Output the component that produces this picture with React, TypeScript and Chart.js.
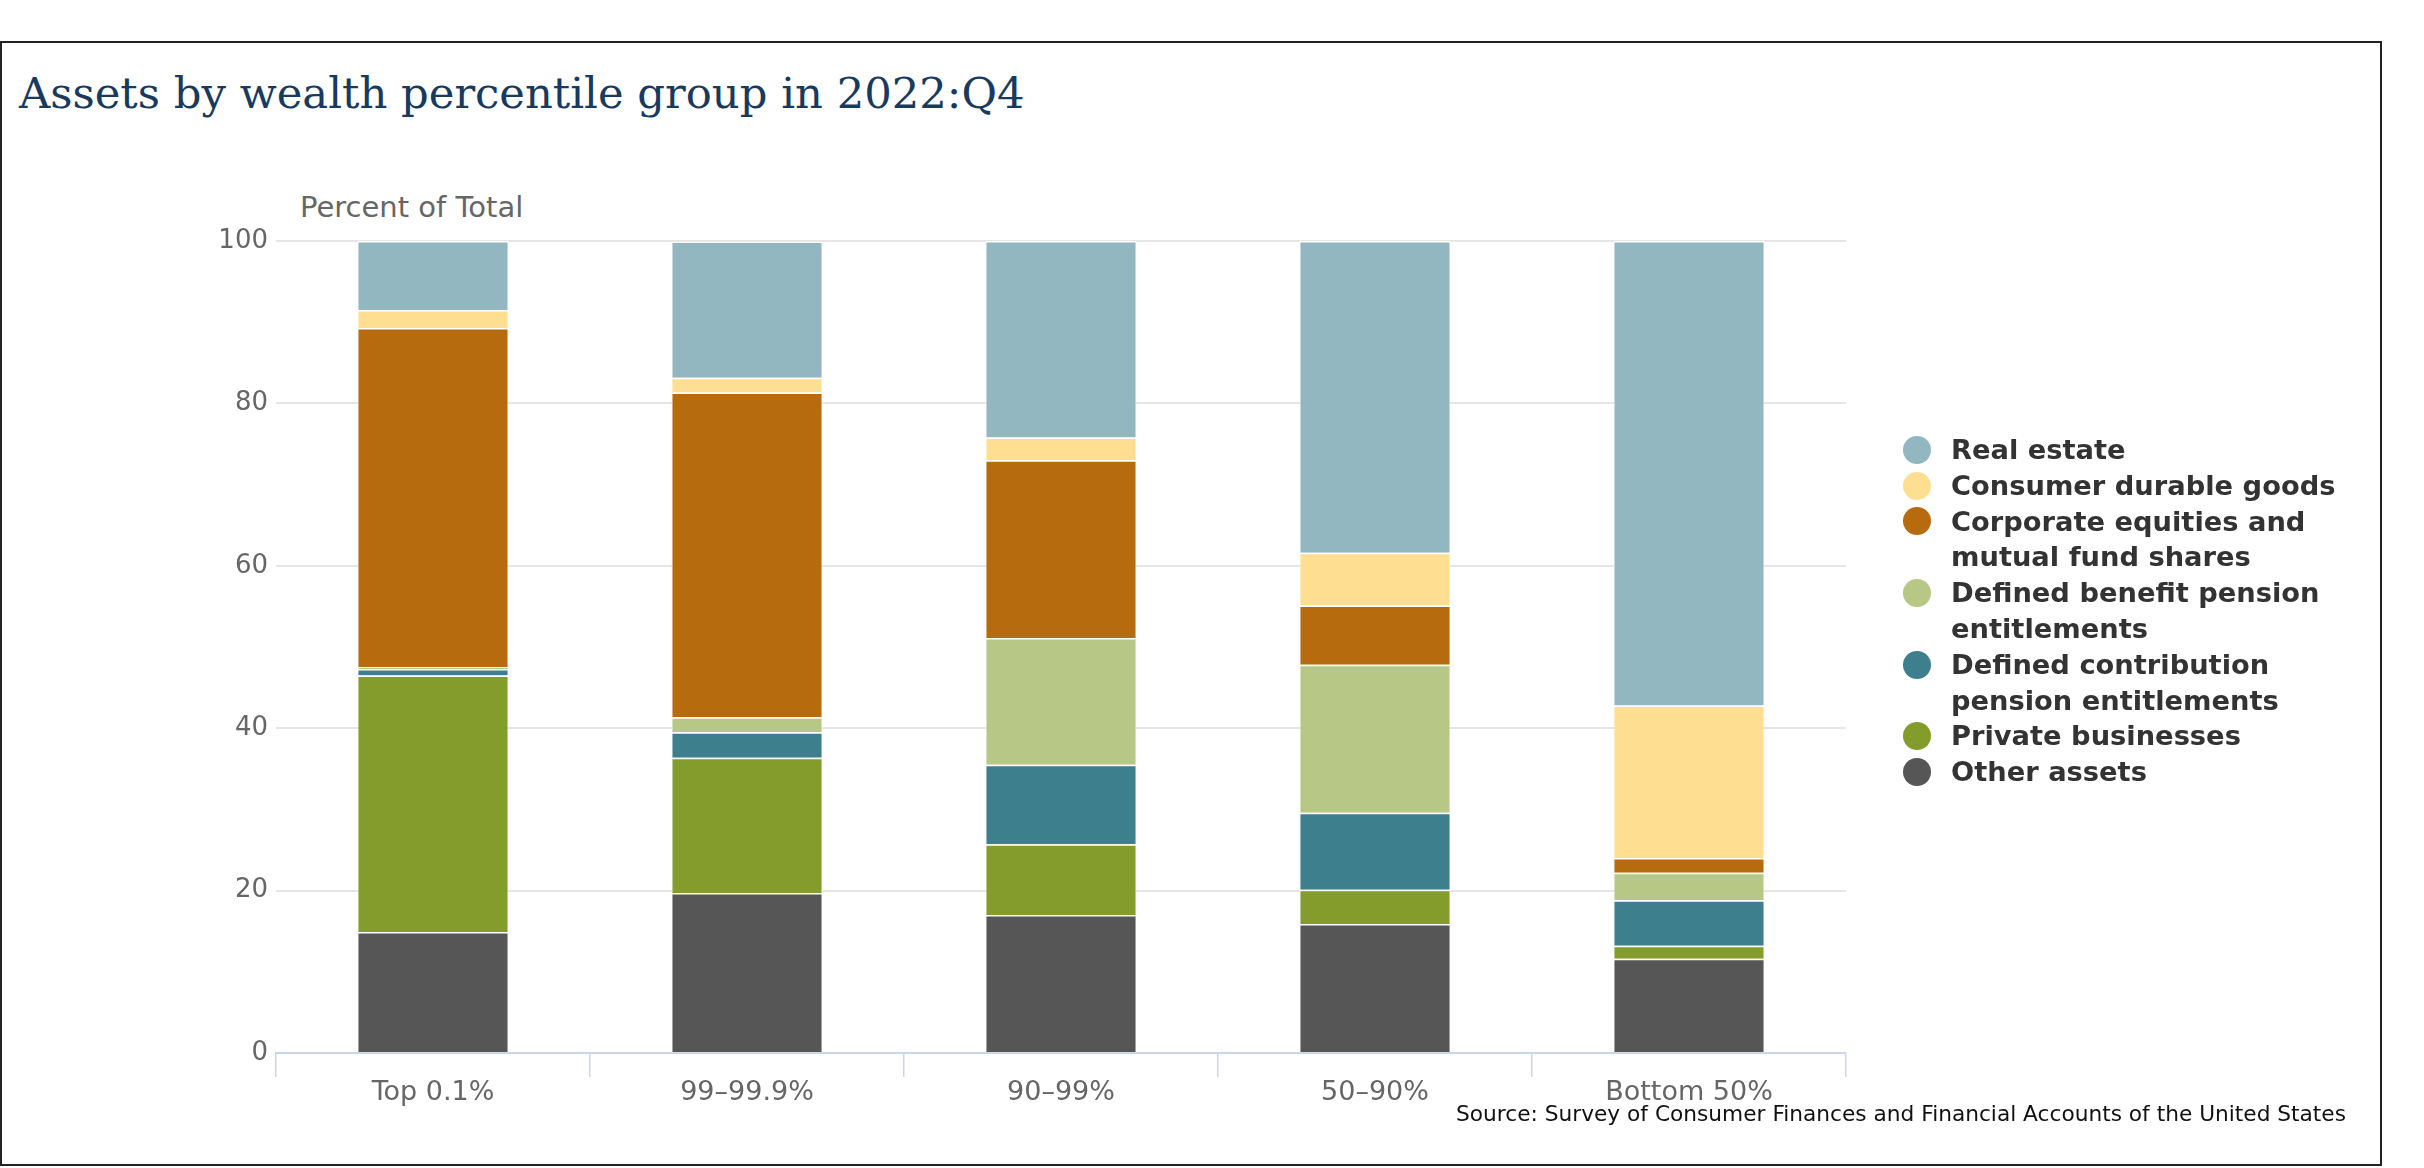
import { useEffect, useRef } from 'react';
import { Chart, registerables } from 'chart.js';

Chart.register(...registerables);

const groups = ['Top 0.1%', '99–99.9%', '90–99%', '50–90%', 'Bottom 50%'];

// percent of total assets
const realEstate = [8.5, 16.8, 24.2, 38.4, 57.2];
const durables = [2.2, 1.8, 2.8, 6.5, 18.8];
const equities = [41.75, 40.0, 21.9, 7.3, 1.8];
const dbPension = [0.25, 1.85, 15.6, 18.2, 3.4];
const dcPension = [0.8, 3.15, 9.8, 9.5, 5.6];
const privateBiz = [31.6, 16.65, 8.7, 4.2, 1.6];
const otherAssets = [14.9, 19.7, 17.0, 15.9, 11.6];

const yTicks = [0, 20, 40, 60, 80, 100];

// legend order (top of the stack first)
const series = [
  { name: 'Real estate', values: realEstate, color: '#93b7c0' },
  { name: 'Consumer durable goods', values: durables, color: '#fedf91' },
  { name: 'Corporate equities and mutual fund shares', values: equities, color: '#b76b0f' },
  { name: 'Defined benefit pension entitlements', values: dbPension, color: '#b7c786' },
  { name: 'Defined contribution pension entitlements', values: dcPension, color: '#3e7f8e' },
  { name: 'Private businesses', values: privateBiz, color: '#839c2c' },
  { name: 'Other assets', values: otherAssets, color: '#565656' },
];

const axisFont = '"DejaVu Sans", sans-serif';

function AssetsChart() {
  const canvasRef = useRef<HTMLCanvasElement | null>(null);

  useEffect(() => {
    if (!canvasRef.current) return;

    const chart = new Chart(canvasRef.current, {
      type: 'bar',
      data: {
        labels: groups,
        datasets: [...series].reverse().map((s) => ({
          label: s.name,
          data: s.values,
          backgroundColor: s.color,
          borderColor: '#ffffff',
          borderWidth: { top: 1.5, left: 0.5, right: 0.5, bottom: 0 },
          borderSkipped: false,
          barPercentage: 0.478,
          categoryPercentage: 1,
        })),
      },
      options: {
        responsive: false,
        animation: false,
        layout: { padding: { left: 0, right: 578, top: 241, bottom: 55 } },
        plugins: {
          legend: { display: false },
          tooltip: { enabled: false },
        },
        scales: {
          x: {
            stacked: true,
            grid: {
              drawOnChartArea: false,
              drawTicks: true,
              tickLength: 24,
              color: '#ccd6eb',
              lineWidth: 1.5,
              offset: true,
            },
            border: { display: true, color: '#ccd6eb', width: 2 },
            ticks: {
              color: '#666666',
              font: { family: axisFont, size: 27 },
              padding: 0,
            },
            afterFit: (scale) => {
              scale.height = 60;
            },
          },
          y: {
            stacked: true,
            min: 0,
            max: 100,
            afterBuildTicks: (scale) => {
              scale.ticks = yTicks.map((v) => ({ value: v }));
            },
            grid: { color: '#e6e6e6', lineWidth: 2, drawTicks: false },
            border: { display: false },
            ticks: {
              color: '#666666',
              font: { family: axisFont, size: 26 },
              padding: 8,
            },
            afterFit: (scale) => {
              scale.width = 276;
            },
          },
        },
      },
    });

    return () => chart.destroy();
  }, []);

  return <canvas ref={canvasRef} width={2424} height={1168} style={{ position: 'absolute', left: 0, top: 0 }} />;
}

export default function App() {
  useEffect(() => {
    document.body.style.margin = '0';
  }, []);

  return (
    <div style={{ position: 'relative', width: 2424, height: 1168, background: '#fff', overflow: 'hidden' }}>
      <div
        style={{
          position: 'absolute',
          left: 0,
          top: 41,
          width: 2378,
          height: 1121,
          border: '2px solid #222',
        }}
      />
      <div
        style={{
          position: 'absolute',
          left: 19,
          top: 63,
          fontFamily: '"DejaVu Serif", serif',
          fontSize: 43.3,
          lineHeight: '60px',
          color: '#173a5e',
          whiteSpace: 'nowrap',
        }}
      >
        Assets by wealth percentile group in 2022:Q4
      </div>
      <div
        style={{
          position: 'absolute',
          left: 300,
          top: 188,
          fontFamily: axisFont,
          fontSize: 29,
          lineHeight: '38px',
          color: '#666666',
          whiteSpace: 'nowrap',
        }}
      >
        Percent of Total
      </div>
      <AssetsChart />
      <div
        style={{
          position: 'absolute',
          left: 1903,
          top: 432,
          fontFamily: axisFont,
          fontWeight: 'bold',
          fontSize: 27.3,
          lineHeight: '35.8px',
          color: '#333333',
        }}
      >
        {series.map((s) => (
          <div key={s.name} style={{ display: 'flex', alignItems: 'flex-start' }}>
            <span
              style={{
                width: 28,
                height: 28,
                borderRadius: '50%',
                background: s.color,
                marginTop: 3.9,
                marginRight: 20,
                flex: '0 0 auto',
              }}
            />
            <span style={{ maxWidth: 420 }}>{s.name}</span>
          </div>
        ))}
      </div>
      <div
        style={{
          position: 'absolute',
          right: 2424 - 2346,
          top: 1100,
          fontFamily: axisFont,
          fontSize: 21.7,
          lineHeight: '28px',
          color: '#111111',
          whiteSpace: 'nowrap',
        }}
      >
        Source: Survey of Consumer Finances and Financial Accounts of the United States
      </div>
    </div>
  );
}
